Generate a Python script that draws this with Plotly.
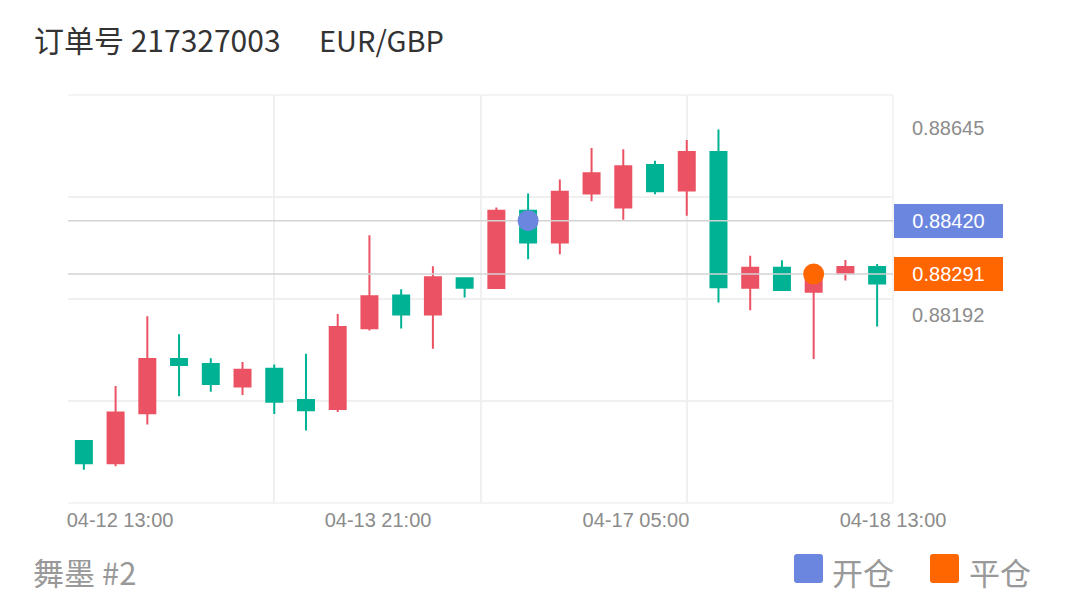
import numpy as np
import plotly.graph_objects as go

# ---------------- data ----------------
opens  = [0.87887, 0.87833, 0.87954, 0.88085, 0.88073, 0.88019, 0.88062, 0.87986, 0.87964, 0.88160,
          0.88239, 0.88193, 0.88281, 0.88257, 0.88444, 0.88367, 0.88486, 0.88452, 0.88555, 0.88493,
          0.88586, 0.88258, 0.88306, 0.88248, 0.88293, 0.88308]
highs  = [0.87889, 0.88020, 0.88189, 0.88145, 0.88087, 0.88078, 0.88072, 0.88098, 0.88194, 0.88385,
          0.88254, 0.88310, 0.88283, 0.88452, 0.88486, 0.88520, 0.88596, 0.88593, 0.88565, 0.88615,
          0.88641, 0.88335, 0.88324, 0.88293, 0.88325, 0.88315]
lows   = [0.87817, 0.87826, 0.87927, 0.87995, 0.88006, 0.87998, 0.87952, 0.87912, 0.87957, 0.88154,
          0.88159, 0.88110, 0.88234, 0.88256, 0.88327, 0.88339, 0.88467, 0.88422, 0.88484, 0.88432,
          0.88222, 0.88203, 0.88252, 0.88085, 0.88275, 0.88164]
closes = [0.87833, 0.87956, 0.88085, 0.88071, 0.88025, 0.88059, 0.87982, 0.87961, 0.88163, 0.88237,
          0.88193, 0.88283, 0.88258, 0.88444, 0.88367, 0.88490, 0.88535, 0.88552, 0.88491, 0.88586,
          0.88259, 0.88306, 0.88252, 0.88291, 0.88308, 0.88268]

x_tick_labels = ["04-12 13:00", "04-13 21:00", "04-17 05:00", "04-18 13:00"]
x_tick_pos = [1.14, 9.27, 17.4, 25.5]
y_tick_labels = [0.88645, 0.88192]

entry_idx, entry_price = 14, 0.88420
exit_idx, exit_price = 23, 0.88291

title_order = "订单号 217327003"
title_symbol = "EUR/GBP"
footer_text = "舞墨 #2"
legend_open = "开仓"
legend_close = "平仓"

# ---------------- layout helpers ----------------
W, H = 1065, 603
L, R, T, B = 68, 893, 95, 503
y_range = [0.877368, 0.887242]
n = len(opens)
xs = list(range(n))
x_range = [-0.5, n - 0.5]


def px(xp):
    return (xp - L) / (R - L)


def py(yp):
    return (B - yp) / (B - T)


UP = "#EB5263"
DOWN = "#00B294"
BLUE = "#6B86DF"
ORANGE = "#FF6600"
GRID = "#F0F0F0"
MARK = "#D3D3D3"
LABEL = "#8C8C8C"

fig = go.Figure()
fig.add_trace(go.Candlestick(
    x=xs, open=opens, high=highs, low=lows, close=closes,
    increasing=dict(line=dict(color=UP, width=2), fillcolor=UP),
    decreasing=dict(line=dict(color=DOWN, width=2), fillcolor=DOWN),
    whiskerwidth=0, showlegend=False, hoverinfo="skip"))

for price in (entry_price, exit_price):
    fig.add_trace(go.Scatter(x=x_range, y=[price, price], mode="lines",
                             line=dict(color=MARK, width=1.6),
                             showlegend=False, hoverinfo="skip"))

fig.add_trace(go.Scatter(x=[entry_idx], y=[entry_price], mode="markers", name=legend_open,
                         marker=dict(size=21, color=BLUE), showlegend=False))
fig.add_trace(go.Scatter(x=[exit_idx], y=[exit_price], mode="markers", name=legend_close,
                         marker=dict(size=21, color=ORANGE), showlegend=False))

# invisible trace to carry the label axes
fig.add_trace(go.Scatter(x=x_tick_pos, y=y_tick_labels + [None, None], xaxis="x2", yaxis="y2",
                         mode="markers", marker=dict(opacity=0), showlegend=False, hoverinfo="skip"))

fig.update_layout(
    width=W, height=H,
    margin=dict(l=L, r=W - R, t=T, b=H - B, pad=0),
    paper_bgcolor="white", plot_bgcolor="white",
    boxgap=0.28,
    showlegend=False,
    xaxis=dict(range=x_range, tickvals=[6, 12.5, 19], showticklabels=False,
               showgrid=True, gridcolor=GRID, gridwidth=1.5, zeroline=False, showline=False,
               ticks="", rangeslider=dict(visible=False), fixedrange=True),
    yaxis=dict(range=y_range, tickvals=list(np.linspace(y_range[0], y_range[1], 5)),
               showticklabels=False, showgrid=True, gridcolor=GRID, gridwidth=1.5,
               zeroline=False, showline=False, ticks=""),
    xaxis2=dict(overlaying="x", anchor="y", side="bottom", range=x_range,
                tickvals=x_tick_pos, ticktext=x_tick_labels, showgrid=False, zeroline=False,
                showline=False, ticks="", ticklabelstandoff=3,
                tickfont=dict(family="Liberation Sans, Arial", size=20, color=LABEL)),
    yaxis2=dict(overlaying="y", anchor="x", side="right", range=y_range,
                tickvals=y_tick_labels, tickformat=".5f", showgrid=False, zeroline=False,
                showline=False, ticks="", ticklabelstandoff=18,
                tickfont=dict(family="Liberation Sans, Arial", size=20, color=LABEL)),
)

annotations = []
for price, col in ((entry_price, BLUE), (exit_price, ORANGE)):
    annotations.append(dict(xref="paper", yref="y", x=px(894), y=price, xanchor="left", yanchor="middle",
                            text=f"{price:.5f}", showarrow=False, bgcolor=col, width=109, height=34,
                            borderpad=0, borderwidth=0, align="center",
                            font=dict(family="Liberation Sans, Arial", size=20, color="white")))

annotations.append(dict(xref="paper", yref="paper", x=px(32), y=py(39), xanchor="left", yanchor="middle",
                        text=title_order, showarrow=False,
                        font=dict(family="Noto Sans CJK SC", size=30, color="#333333")))
annotations.append(dict(xref="paper", yref="paper", x=px(317), y=py(39), xanchor="left", yanchor="middle",
                        text=title_symbol, showarrow=False,
                        font=dict(family="Noto Sans CJK SC", size=29, color="#333333")))
annotations.append(dict(xref="paper", yref="paper", x=px(31), y=py(571), xanchor="left", yanchor="middle",
                        text=footer_text, showarrow=False,
                        font=dict(family="Noto Sans CJK SC", size=31, color="#999999")))
annotations.append(dict(xref="paper", yref="paper", x=px(830), y=py(571), xanchor="left", yanchor="middle",
                        text=legend_open, showarrow=False,
                        font=dict(family="Noto Sans CJK SC", size=31, color="#999999")))
annotations.append(dict(xref="paper", yref="paper", x=px(967), y=py(571), xanchor="left", yanchor="middle",
                        text=legend_close, showarrow=False,
                        font=dict(family="Noto Sans CJK SC", size=31, color="#999999")))


def rounded_rect(x0, y0, x1, y1, r):
    pts = [
        f"M{px(x0 + r)},{py(y0)}", f"L{px(x1 - r)},{py(y0)}", f"Q{px(x1)},{py(y0)} {px(x1)},{py(y0 + r)}",
        f"L{px(x1)},{py(y1 - r)}", f"Q{px(x1)},{py(y1)} {px(x1 - r)},{py(y1)}",
        f"L{px(x0 + r)},{py(y1)}", f"Q{px(x0)},{py(y1)} {px(x0)},{py(y1 - r)}",
        f"L{px(x0)},{py(y0 + r)}", f"Q{px(x0)},{py(y0)} {px(x0 + r)},{py(y0)}", "Z"]
    return " ".join(pts)


shapes = [
    # plot-area edge grid lines (plotly drops gridlines on the range edges)
    dict(type="line", xref="paper", yref="paper", x0=0, x1=1, y0=1, y1=1,
         line=dict(color=GRID, width=1.5), layer="below"),
    dict(type="line", xref="paper", yref="paper", x0=0, x1=1, y0=0, y1=0,
         line=dict(color=GRID, width=1.5), layer="below"),
    dict(type="line", xref="paper", yref="paper", x0=1, x1=1, y0=0, y1=1,
         line=dict(color=GRID, width=1.5), layer="below"),
    dict(type="path", xref="paper", yref="paper", path=rounded_rect(794, 554, 823, 583, 3),
         fillcolor=BLUE, line=dict(width=0)),
    dict(type="path", xref="paper", yref="paper", path=rounded_rect(930, 554, 959, 583, 3),
         fillcolor=ORANGE, line=dict(width=0)),
]

fig.update_layout(annotations=annotations, shapes=shapes)
fig.write_html("out.html", config={"displayModeBar": False},
               post_script="document.body.style.margin='0';")
